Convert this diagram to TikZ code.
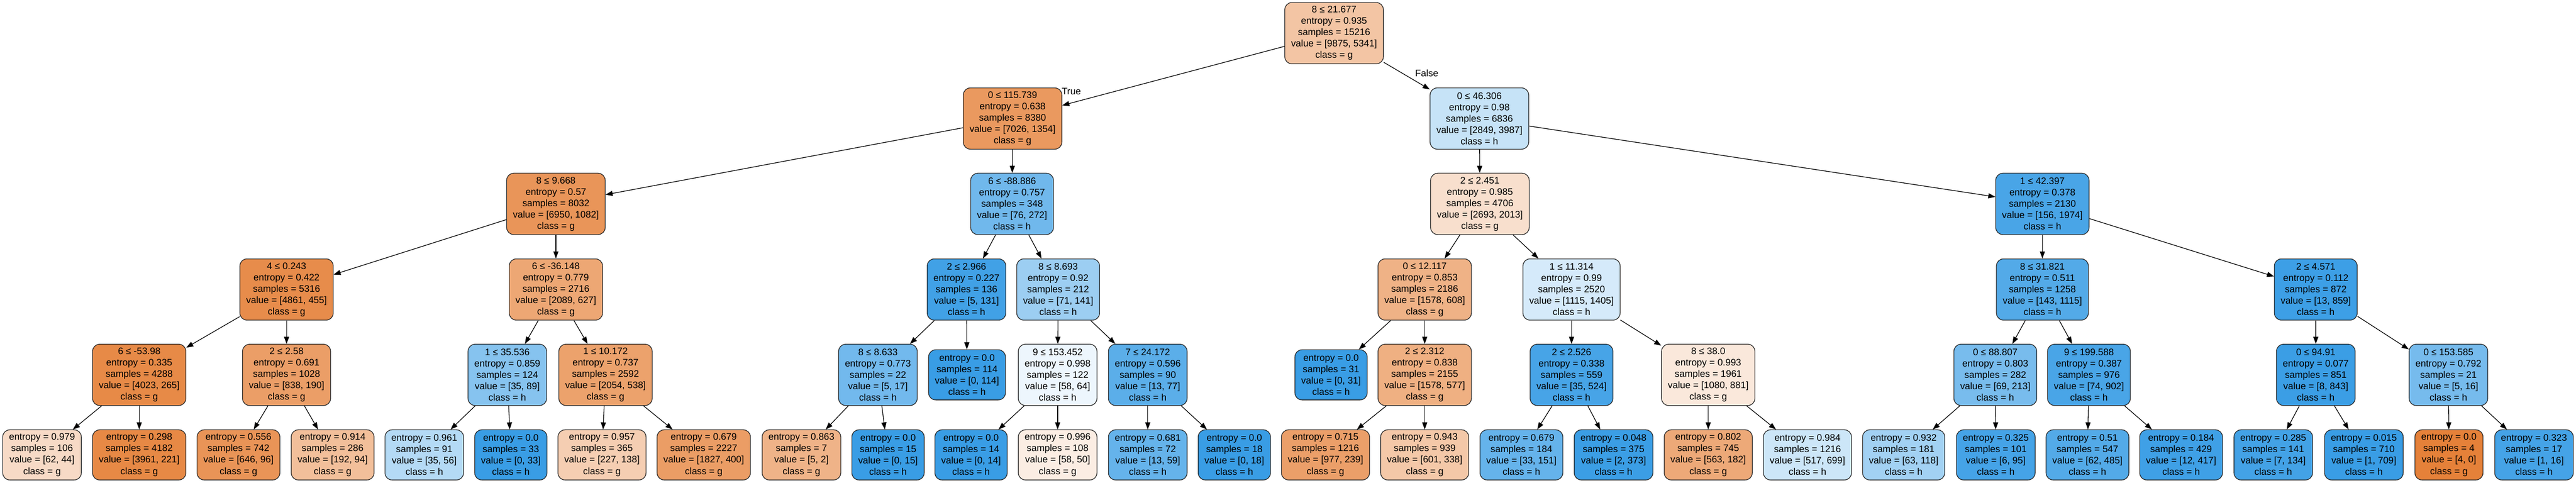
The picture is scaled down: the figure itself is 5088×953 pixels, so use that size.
\documentclass[tikz,border=0pt]{standalone}
\usepackage{fontspec}
\setmainfont{Liberation Sans}
\usetikzlibrary{arrows.meta}
\definecolor{gc}{RGB}{229,129,57}
\definecolor{hc}{RGB}{57,157,229}
\newcommand\gvI[5]{#1\\entropy = #2\\samples = #3\\value = [#4]\\class = #5}
\newcommand\gvL[4]{entropy = #1\\samples = #2\\value = [#3]\\class = #4}
\newcommand\gvfont{\fontsize{18.67}{22.4}\selectfont}
\begin{document}
\begin{tikzpicture}[x=1pt,y=1pt,
  tn/.style={draw=black!85, line width=1.33pt, rounded corners=14pt, align=center,
    inner xsep=12.5pt, inner ysep=0pt, minimum height=121pt, font=\gvfont},
  lf/.style={tn, minimum height=99pt},
  ed/.style={line width=1.33pt, -{Triangle[length=14pt,width=10pt]}},
  lab/.style={inner sep=0pt, font=\gvfont}]
\useasboundingbox (0,0) rectangle (5088,-953);
\fill[white] (0,0) rectangle (5088,-953);
% rank 0
\node[tn, fill=gc!46] (n) at (2635,-65.5) {\gvI{8 ≤ 21.677}{0.935}{15216}{9875, 5341}{g}};
% rank 1
\node[tn, fill=gc!81] (nL) at (2000,-234) {\gvI{0 ≤ 115.739}{0.638}{8380}{7026, 1354}{g}};
\node[tn, fill=hc!29] (nR) at (2922,-234) {\gvI{0 ≤ 46.306}{0.98}{6836}{2849, 3987}{h}};
% rank 2
\node[tn, fill=gc!84] (nLL) at (1098,-402.5) {\gvI{8 ≤ 9.668}{0.57}{8032}{6950, 1082}{g}};
\node[tn, fill=hc!72] (nLR) at (1999,-402.5) {\gvI{6 ≤ -88.886}{0.757}{348}{76, 272}{h}};
\node[tn, fill=gc!25] (nRL) at (2923,-402.5) {\gvI{2 ≤ 2.451}{0.985}{4706}{2693, 2013}{g}};
\node[tn, fill=hc!92] (nRR) at (4034,-402.5) {\gvI{1 ≤ 42.397}{0.378}{2130}{156, 1974}{h}};
% rank 3
\node[tn, fill=gc!91] (nLLL) at (566,-571.5) {\gvI{4 ≤ 0.243}{0.422}{5316}{4861, 455}{g}};
\node[tn, fill=gc!70] (nLLR) at (1098,-571.5) {\gvI{6 ≤ -36.148}{0.779}{2716}{2089, 627}{g}};
\node[tn, fill=hc!96] (nLRL) at (1909,-571.5) {\gvI{2 ≤ 2.966}{0.227}{136}{5, 131}{h}};
\node[tn, fill=hc!50] (nLRR) at (2090,-571.5) {\gvI{8 ≤ 8.693}{0.92}{212}{71, 141}{h}};
\node[tn, fill=gc!61] (nRLL) at (2814,-571.5) {\gvI{0 ≤ 12.117}{0.853}{2186}{1578, 608}{g}};
\node[tn, fill=hc!21] (nRLR) at (3104,-571.5) {\gvI{1 ≤ 11.314}{0.99}{2520}{1115, 1405}{h}};
\node[tn, fill=hc!87] (nRRL) at (4034,-571.5) {\gvI{8 ≤ 31.821}{0.511}{1258}{143, 1115}{h}};
\node[tn, fill=hc!98] (nRRR) at (4574,-571.5) {\gvI{2 ≤ 4.571}{0.112}{872}{13, 859}{h}};
% rank 4
\node[tn, fill=gc!93] (nLLLL) at (275,-740) {\gvI{6 ≤ -53.98}{0.335}{4288}{4023, 265}{g}};
\node[tn, fill=gc!77] (nLLLR) at (566,-740) {\gvI{2 ≤ 2.58}{0.691}{1028}{838, 190}{g}};
\node[tn, fill=hc!61] (nLLRL) at (1002,-740) {\gvI{1 ≤ 35.536}{0.859}{124}{35, 89}{h}};
\node[tn, fill=gc!74] (nLLRR) at (1196,-740) {\gvI{1 ≤ 10.172}{0.737}{2592}{2054, 538}{g}};
\node[tn, fill=hc!71] (nLRLL) at (1734,-740) {\gvI{8 ≤ 8.633}{0.773}{22}{5, 17}{h}};
\node[lf, fill=hc] (nLRLR) at (1910,-740) {\gvL{0.0}{114}{0, 114}{h}};
\node[tn, fill=hc!9] (nLRRL) at (2089,-740) {\gvI{9 ≤ 153.452}{0.998}{122}{58, 64}{h}};
\node[tn, fill=hc!83] (nLRRR) at (2267,-740) {\gvI{7 ≤ 24.172}{0.596}{90}{13, 77}{h}};
\node[lf, fill=hc] (nRLLL) at (2629,-740) {\gvL{0.0}{31}{0, 31}{h}};
\node[tn, fill=gc!63] (nRLLR) at (2814,-740) {\gvI{2 ≤ 2.312}{0.838}{2155}{1578, 577}{g}};
\node[tn, fill=hc!93] (nRLRL) at (3104,-740) {\gvI{2 ≤ 2.526}{0.338}{559}{35, 524}{h}};
\node[tn, fill=gc!18] (nRLRR) at (3374,-740) {\gvI{8 ≤ 38.0}{0.993}{1961}{1080, 881}{g}};
\node[tn, fill=hc!68] (nRRLL) at (3941,-740) {\gvI{0 ≤ 88.807}{0.803}{282}{69, 213}{h}};
\node[tn, fill=hc!92] (nRRLR) at (4126,-740) {\gvI{9 ≤ 199.588}{0.387}{976}{74, 902}{h}};
\node[tn, fill=hc!99] (nRRRL) at (4574,-740) {\gvI{0 ≤ 94.91}{0.077}{851}{8, 843}{h}};
\node[tn, fill=hc!69] (nRRRR) at (4836,-740) {\gvI{0 ≤ 153.585}{0.792}{21}{5, 16}{h}};
% rank 5 leaves
\node[lf, fill=gc!29] (l1) at (83,-898) {\gvL{0.979}{106}{62, 44}{g}};
\node[lf, fill=gc!94] (l2) at (275,-898) {\gvL{0.298}{4182}{3961, 221}{g}};
\node[lf, fill=gc!85] (l3) at (471,-898) {\gvL{0.556}{742}{646, 96}{g}};
\node[lf, fill=gc!51] (l4) at (657,-898) {\gvL{0.914}{286}{192, 94}{g}};
\node[lf, fill=hc!38] (l5) at (838,-898) {\gvL{0.961}{91}{35, 56}{h}};
\node[lf, fill=hc] (l6) at (1009,-898) {\gvL{0.0}{33}{0, 33}{h}};
\node[lf, fill=gc!39] (l7) at (1189,-898) {\gvL{0.957}{365}{227, 138}{g}};
\node[lf, fill=gc!78] (l8) at (1390,-898) {\gvL{0.679}{2227}{1827, 400}{g}};
\node[lf, fill=gc!60] (l9) at (1583,-898) {\gvL{0.863}{7}{5, 2}{g}};
\node[lf, fill=hc] (l10) at (1754,-898) {\gvL{0.0}{15}{0, 15}{h}};
\node[lf, fill=hc] (l11) at (1918,-898) {\gvL{0.0}{14}{0, 14}{h}};
\node[lf, fill=gc!14] (l12) at (2089,-898) {\gvL{0.996}{108}{58, 50}{g}};
\node[lf, fill=hc!78] (l13) at (2267,-898) {\gvL{0.681}{72}{13, 59}{h}};
\node[lf, fill=hc] (l14) at (2438,-898) {\gvL{0.0}{18}{0, 18}{h}};
\node[lf, fill=gc!76] (l15) at (2618,-898) {\gvL{0.715}{1216}{977, 239}{g}};
\node[lf, fill=gc!44] (l16) at (2814,-898) {\gvL{0.943}{939}{601, 338}{g}};
\node[lf, fill=hc!78] (l17) at (3005,-898) {\gvL{0.679}{184}{33, 151}{h}};
\node[lf, fill=hc!99] (l18) at (3187,-898) {\gvL{0.048}{375}{2, 373}{h}};
\node[lf, fill=gc!68] (l19) at (3374,-898) {\gvL{0.802}{745}{563, 182}{g}};
\node[lf, fill=hc!26] (l20) at (3570,-898) {\gvL{0.984}{1216}{517, 699}{h}};
\node[lf, fill=hc!47] (l21) at (3760,-898) {\gvL{0.932}{181}{63, 118}{h}};
\node[lf, fill=hc!94] (l22) at (3942,-898) {\gvL{0.325}{101}{6, 95}{h}};
\node[lf, fill=hc!87] (l23) at (4123,-898) {\gvL{0.51}{547}{62, 485}{h}};
\node[lf, fill=hc!97] (l24) at (4308,-898) {\gvL{0.184}{429}{12, 417}{h}};
\node[lf, fill=hc!95] (l25) at (4490,-898) {\gvL{0.285}{141}{7, 134}{h}};
\node[lf, fill=hc] (l26) at (4669,-898) {\gvL{0.015}{710}{1, 709}{h}};
\node[lf, fill=gc] (l27) at (4837,-898) {\gvL{0.0}{4}{4, 0}{g}};
\node[lf, fill=hc!94] (l28) at (5005,-898) {\gvL{0.323}{17}{1, 16}{h}};
% edge labels
\node[lab, anchor=base west] (tl) at (2097,-187) {True};
\node[lab, anchor=base west] (fl) at (2795,-151) {False};
% edges
\draw[ed] (n) -- (nL); \draw[ed] (n) -- (nR);
\draw[ed] (nL) -- (nLL); \draw[ed] (nL) -- (nLR);
\draw[ed] (nR) -- (nRL); \draw[ed] (nR) -- (nRR);
\draw[ed] (nLL) -- (nLLL); \draw[ed] (nLL) -- (nLLR);
\draw[ed] (nLR) -- (nLRL); \draw[ed] (nLR) -- (nLRR);
\draw[ed] (nRL) -- (nRLL); \draw[ed] (nRL) -- (nRLR);
\draw[ed] (nRR) -- (nRRL); \draw[ed] (nRR) -- (nRRR);
\draw[ed] (nLLL) -- (nLLLL); \draw[ed] (nLLL) -- (nLLLR);
\draw[ed] (nLLR) -- (nLLRL); \draw[ed] (nLLR) -- (nLLRR);
\draw[ed] (nLRL) -- (nLRLL); \draw[ed] (nLRL) -- (nLRLR);
\draw[ed] (nLRR) -- (nLRRL); \draw[ed] (nLRR) -- (nLRRR);
\draw[ed] (nRLL) -- (nRLLL); \draw[ed] (nRLL) -- (nRLLR);
\draw[ed] (nRLR) -- (nRLRL); \draw[ed] (nRLR) -- (nRLRR);
\draw[ed] (nRRL) -- (nRRLL); \draw[ed] (nRRL) -- (nRRLR);
\draw[ed] (nRRR) -- (nRRRL); \draw[ed] (nRRR) -- (nRRRR);
\draw[ed] (nLLLL) -- (l1); \draw[ed] (nLLLL) -- (l2);
\draw[ed] (nLLLR) -- (l3); \draw[ed] (nLLLR) -- (l4);
\draw[ed] (nLLRL) -- (l5); \draw[ed] (nLLRL) -- (l6);
\draw[ed] (nLLRR) -- (l7); \draw[ed] (nLLRR) -- (l8);
\draw[ed] (nLRLL) -- (l9); \draw[ed] (nLRLL) -- (l10);
\draw[ed] (nLRRL) -- (l11); \draw[ed] (nLRRL) -- (l12);
\draw[ed] (nLRRR) -- (l13); \draw[ed] (nLRRR) -- (l14);
\draw[ed] (nRLLR) -- (l15); \draw[ed] (nRLLR) -- (l16);
\draw[ed] (nRLRL) -- (l17); \draw[ed] (nRLRL) -- (l18);
\draw[ed] (nRLRR) -- (l19); \draw[ed] (nRLRR) -- (l20);
\draw[ed] (nRRLL) -- (l21); \draw[ed] (nRRLL) -- (l22);
\draw[ed] (nRRLR) -- (l23); \draw[ed] (nRRLR) -- (l24);
\draw[ed] (nRRRL) -- (l25); \draw[ed] (nRRRL) -- (l26);
\draw[ed] (nRRRR) -- (l27); \draw[ed] (nRRRR) -- (l28);
\end{tikzpicture}
\end{document}
